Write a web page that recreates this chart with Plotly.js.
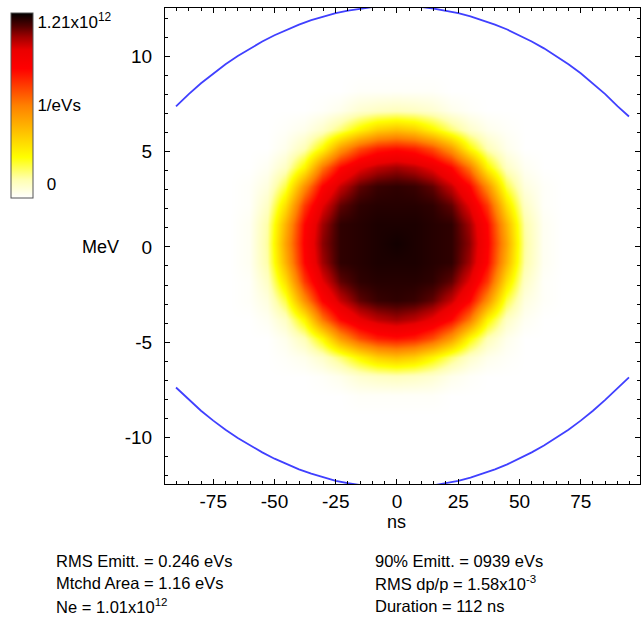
<!DOCTYPE html>
<html>
<head>
<meta charset="utf-8">
<script src="https://cdn.plot.ly/plotly-3.0.1.min.js"></script>
<style>
  html, body { margin: 0; padding: 0; background: #ffffff; }
  #chart { width: 641px; height: 620px; }
</style>
</head>
<body>
<div id="chart"></div>
<script>
// ---- data ----
// bunch phase-space density, units of 1e10 per eVs
const timeNs = [-68, -60.5, -53, -45.5, -38, -30.5, -23, -15.5, -8, -0.5, 7, 14.5, 22, 29.5, 37, 44.5, 52, 59.5, 67];
const energyMeV = [-8.8, -7.8, -6.8, -5.8, -4.8, -3.8, -2.8, -1.8, -0.8, 0.2, 1.2, 2.2, 3.2, 4.2, 5.2, 6.2, 7.2, 8.2, 9.2];
const density = [
  [0,0,0,0,0,0,0,0,0,0,0,0,0,0,0,0,0,0,0],
  [0,0,0,0,0,0,0,1,1,1,1,1,0,0,0,0,0,0,0],
  [0,0,0,0,0,1,3,7,9,10,9,7,3,1,0,0,0,0,0],
  [0,0,0,1,3,8,17,29,39,43,39,29,17,8,3,1,0,0,0],
  [0,0,0,3,11,28,53,70,79,82,79,70,53,28,11,3,0,0,0],
  [0,0,2,9,29,62,84,96,102,105,102,96,84,62,29,9,2,0,0],
  [0,1,5,21,56,85,101,111,115,116,115,111,101,85,56,21,5,1,0],
  [0,1,9,35,74,97,111,116,117,117,117,116,111,97,74,35,9,1,0],
  [0,2,13,47,84,105,116,117,118,118,118,117,116,105,84,47,13,2,0],
  [0,2,14,51,86,107,116,117,118,119,118,117,116,107,86,51,14,2,0],
  [0,2,13,47,84,105,116,117,118,118,118,117,116,105,84,47,13,2,0],
  [0,1,9,35,74,97,111,116,117,117,117,116,111,97,74,35,9,1,0],
  [0,1,5,21,56,85,101,111,115,116,115,111,101,85,56,21,5,1,0],
  [0,0,2,9,29,62,84,96,102,105,102,96,84,62,29,9,2,0,0],
  [0,0,0,3,11,28,53,70,79,82,79,70,53,28,11,3,0,0,0],
  [0,0,0,1,3,8,17,29,39,43,39,29,17,8,3,1,0,0,0],
  [0,0,0,0,0,1,3,7,9,10,9,7,3,1,0,0,0,0,0],
  [0,0,0,0,0,0,0,1,1,1,1,1,0,0,0,0,0,0,0],
  [0,0,0,0,0,0,0,0,0,0,0,0,0,0,0,0,0,0,0]
];

// separatrix (bucket boundary)
const sepTimeNs   = [-90.2, -85, -80, -75, -70, -65, -60, -55, -50, -45, -40, -35, -30, -25, -20, -15, -10, -5, 0, 5, 10, 15, 20, 25, 30, 35, 40, 45, 50, 55, 60, 65, 70, 75, 80, 85, 90, 94.7];
const sepUpperMeV = [7.38, 8.03, 8.60, 9.12, 9.60, 10.03, 10.43, 10.79, 11.12, 11.42, 11.68, 11.91, 12.11, 12.28, 12.41, 12.52, 12.60, 12.64, 12.66, 12.64, 12.60, 12.52, 12.41, 12.28, 12.11, 11.91, 11.68, 11.42, 11.12, 10.79, 10.43, 10.03, 9.60, 9.12, 8.60, 8.03, 7.40, 6.85];
const sepLowerMeV = [-7.38, -8.03, -8.60, -9.12, -9.60, -10.03, -10.43, -10.79, -11.12, -11.42, -11.68, -11.91, -12.11, -12.28, -12.41, -12.52, -12.60, -12.64, -12.66, -12.64, -12.60, -12.52, -12.41, -12.28, -12.11, -11.91, -11.68, -11.42, -11.12, -10.79, -10.43, -10.03, -9.60, -9.12, -8.60, -8.03, -7.40, -6.85];

// tick labels
const xTickVals = [-75, -50, -25, 0, 25, 50, 75];
const xTickText = ['-75', '-50', '-25', '0', '25', '50', '75'];
const yTickVals = [-10, -5, 0, 5, 10];
const yTickText = ['-10', '-5', '0', '5', '10'];
const cbTickVals = [9, 61, 115];
const cbTickText = ['\u00a0\u00a00', '1/eVs', '1.21x10<sup>12</sup>'];

// statistics text
const statsLeft  = ['RMS Emitt. = 0.246 eVs', 'Mtchd Area = 1.16 eVs', 'Ne = 1.01x10<sup>12</sup>'];
const statsRight = ['90% Emitt. = 0939 eVs', 'RMS dp/p = 1.58x10<sup>-3</sup>', 'Duration = 112 ns'];

// ---- figure ----
const FONT = 'Liberation Sans, Arial, Helvetica, sans-serif';

const heat = {
  type: 'heatmap',
  x: timeNs,
  y: energyMeV,
  z: density,
  zmin: 0,
  zmax: 121,
  zsmooth: 'best',
  hoverinfo: 'skip',
  colorscale: [
    [0, '#ffffff'], [0.1, '#ffffb0'], [0.22, '#ffff00'], [0.36, '#ffc000'],
    [0.5, '#ff8000'], [0.6, '#ff4000'], [0.7, '#ff0000'], [0.8, '#ea0000'],
    [0.87, '#a00000'], [0.93, '#500000'], [1, '#000000']
  ],
  colorbar: {
    x: (11 - 165) / 475, xanchor: 'left', xpad: 0,
    y: (484 - 13) / 476, yanchor: 'top', ypad: 0,
    thickness: 22, thicknessmode: 'pixels',
    len: 185, lenmode: 'pixels',
    outlinecolor: '#555555', outlinewidth: 1,
    tickmode: 'array', tickvals: cbTickVals, ticktext: cbTickText,
    ticks: '', ticklabelposition: 'outside',
    tickfont: { family: FONT, size: 17, color: '#000000' }
  }
};

const sepStyle = { color: 'rgb(64,64,255)', width: 1.8 };
const sepUpper = { type: 'scatter', mode: 'lines', x: sepTimeNs, y: sepUpperMeV, line: sepStyle, hoverinfo: 'skip', showlegend: false };
const sepLower = { type: 'scatter', mode: 'lines', x: sepTimeNs, y: sepLowerMeV, line: sepStyle, hoverinfo: 'skip', showlegend: false };

const annotations = [
  { text: 'MeV', xref: 'paper', yref: 'y', x: (100 - 165) / 475, y: 0, xanchor: 'center', yanchor: 'middle', showarrow: false, font: { family: FONT, size: 18, color: '#000' } },
  { text: 'ns', xref: 'x', yref: 'paper', x: 0, y: (484 - 522) / 476, xanchor: 'center', yanchor: 'middle', showarrow: false, font: { family: FONT, size: 18, color: '#000' } }
];
const rowY = [561, 583, 606];
statsLeft.forEach((t, i) => annotations.push({ text: t, xref: 'paper', yref: 'paper', x: (54 - 165) / 475, y: (484 - rowY[i]) / 476, xanchor: 'left', yanchor: 'middle', showarrow: false, font: { family: FONT, size: 16.5, color: '#000' } }));
statsRight.forEach((t, i) => annotations.push({ text: t, xref: 'paper', yref: 'paper', x: (373 - 165) / 475, y: (484 - rowY[i]) / 476, xanchor: 'left', yanchor: 'middle', showarrow: false, font: { family: FONT, size: 16.5, color: '#000' } }));

const axisCommon = {
  showgrid: false, zeroline: false,
  showline: true, linecolor: '#000000', linewidth: 1, mirror: 'ticks',
  ticks: 'inside', ticklen: 5, tickwidth: 1, tickcolor: '#000000',
  tickfont: { family: FONT, size: 19, color: '#000000' },
  fixedrange: true
};

const layout = {
  width: 641, height: 620,
  margin: { l: 165, r: 1, t: 8, b: 136 },
  paper_bgcolor: '#ffffff', plot_bgcolor: '#ffffff',
  showlegend: false,
  xaxis: Object.assign({}, axisCommon, {
    range: [-94.7, 99.2], tickmode: 'array', tickvals: xTickVals, ticktext: xTickText,
    minor: { dtick: 5, ticks: 'inside', ticklen: 3, tickcolor: '#000000' },
    ticklabelstandoff: 0
  }),
  yaxis: Object.assign({}, axisCommon, {
    range: [-12.45, 12.55], tickmode: 'array', tickvals: yTickVals, ticktext: yTickText,
    minor: { dtick: 1, ticks: 'inside', ticklen: 3, tickcolor: '#000000' },
    ticklabelstandoff: 8
  }),
  annotations: annotations
};

Plotly.newPlot('chart', [heat, sepUpper, sepLower], layout, { displayModeBar: false, staticPlot: true });
</script>
</body>
</html>
